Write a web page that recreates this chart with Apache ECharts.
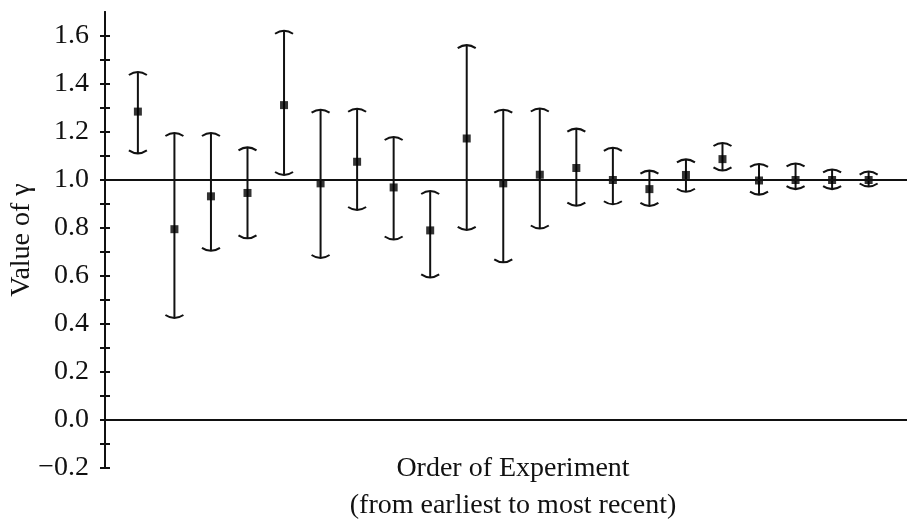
<!DOCTYPE html>
<html>
<head>
<meta charset="utf-8">
<script src="https://cdn.jsdelivr.net/npm/echarts@6/dist/echarts.min.js"></script>
<style>
html,body{margin:0;padding:0;background:#fff;}
#chart{width:907px;height:525px;}
</style>
</head>
<body>
<div id="chart"></div>
<script>
// Order of experiment (1 = earliest)
var order = [1,2,3,4,5,6,7,8,9,10,11,12,13,14,15,16,17,18,19,20,21];
// Measured value of gamma
var gammaValue = [1.285,0.795,0.932,0.946,1.312,0.986,1.076,0.969,0.790,1.173,0.986,1.022,1.050,1.000,0.962,1.021,1.087,0.998,1.000,1.000,1.000];
// Upper end of error bar
var gammaHigh = [1.450,1.196,1.196,1.136,1.622,1.293,1.297,1.179,0.954,1.562,1.293,1.298,1.214,1.134,1.039,1.086,1.154,1.067,1.069,1.044,1.035];
// Lower end of error bar
var gammaLow = [1.111,0.425,0.705,0.757,1.021,0.675,0.875,0.752,0.594,0.792,0.657,0.798,0.893,0.899,0.892,0.951,1.040,0.939,0.962,0.962,0.973];
// Reference lines
var refLines = [1.0, 0.0];
// Y tick labels and tick marks
var yTickLabels = [-0.2,0.0,0.2,0.4,0.6,0.8,1.0,1.2,1.4,1.6];
var yTickMarks = [-0.2,-0.1,0.0,0.1,0.2,0.3,0.4,0.5,0.6,0.7,0.8,0.9,1.0,1.1,1.2,1.3,1.4,1.5,1.6];

var FONT = '"Liberation Serif","DejaVu Serif",serif';
var INK = '#111';

var errData = order.map(function(o,i){ return [o, gammaLow[i], gammaHigh[i]]; });
var ptData = order.map(function(o,i){ return [o, gammaValue[i]]; });

var chart = echarts.init(document.getElementById('chart'));

function yAxisBase(inside){
  return {
    type:'value', min:-0.2, max:1.7, position:'left',
    axisLine:{show:true, onZero:false, lineStyle:{color:INK, width:2}},
    axisTick:{show:true, inside:inside, length:5, customValues:yTickMarks, lineStyle:{color:INK, width:2}},
    splitLine:{show:false}
  };
}

var yMain = yAxisBase(false);
yMain.axisLabel = {
  show:true, customValues:yTickLabels, margin:16,
  fontFamily:FONT, fontSize:28, color:INK,
  formatter:function(v){ return v.toFixed(1).replace('-', '\u2212'); }
};
yMain.name = 'Value of \u03b3';
yMain.nameLocation = 'middle';
yMain.nameGap = 69;
yMain.nameMoveOverlap = false;
yMain.nameTextStyle = {fontFamily:FONT, fontSize:28, color:INK};

var yInner = yAxisBase(true);
yInner.axisLabel = {show:false};

var option = {
  animation:false,
  backgroundColor:'#fff',
  grid:{left:105, right:0, top:12, bottom:57, containLabel:false, outerBoundsMode:'none'},
  xAxis:{type:'value', min:0.1, max:22.05, show:false},
  yAxis:[yMain, yInner],
  graphic:[{
    type:'text', x:513, y:450,
    style:{
      text:'Order of Experiment\n(from earliest to most recent)',
      textAlign:'center', fontFamily:FONT, fontSize:28, lineHeight:37, fill:INK
    }
  }],
  series:[
    {
      type:'custom', yAxisIndex:0,
      data:errData,
      renderItem:function(params, api){
        var x = api.value(0);
        var lo = api.coord([x, api.value(1)]);
        var hi = api.coord([x, api.value(2)]);
        var w = 9, h = 3;
        var st = {stroke:INK, lineWidth:2, fill:null};
        return {type:'group', children:[
          {type:'line', shape:{x1:hi[0], y1:hi[1], x2:lo[0], y2:lo[1]}, style:st},
          {type:'bezierCurve', shape:{x1:hi[0]-w, y1:hi[1]+h, x2:hi[0]+w, y2:hi[1]+h, cpx1:hi[0], cpy1:hi[1]-h}, style:st},
          {type:'bezierCurve', shape:{x1:lo[0]-w, y1:lo[1]-h, x2:lo[0]+w, y2:lo[1]-h, cpx1:lo[0], cpy1:lo[1]+h}, style:st}
        ]};
      },
      markLine:{
        silent:true, symbol:'none', label:{show:false},
        lineStyle:{color:INK, width:2, type:'solid'},
        data:refLines.map(function(v){ return {yAxis:v}; })
      },
      z:2
    },
    {
      type:'scatter', yAxisIndex:0, data:ptData,
      symbol:'rect', symbolSize:8,
      itemStyle:{color:'#000'}, z:3
    }
  ]
};
chart.setOption(option);
</script>
</body>
</html>
